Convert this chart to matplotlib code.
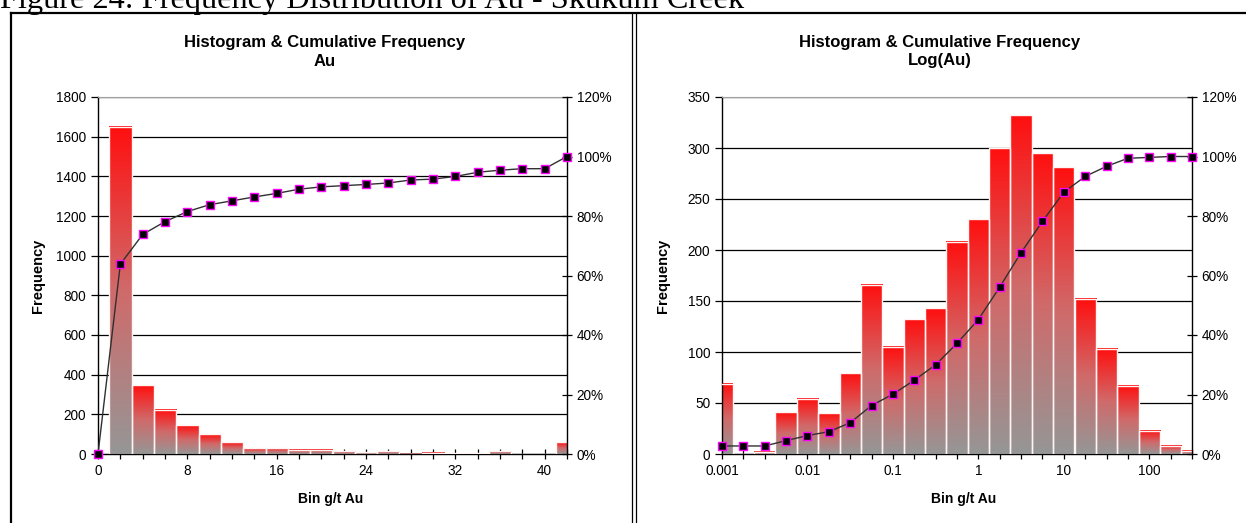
import matplotlib
matplotlib.use("Agg")
import matplotlib.pyplot as plt
import numpy as np
from matplotlib.colors import LinearSegmentedColormap
from matplotlib.lines import Line2D
from matplotlib.ticker import FixedLocator, FuncFormatter

# --- data ---
au_bins = [0, 2, 4, 6, 8, 10, 12, 14, 16, 18, 20, 22, 24, 26, 28, 30, 32, 34, 36, 38, 40, 42]
au_freq = [0, 1650, 347, 222, 145, 99, 60, 29, 29, 22, 22, 15, 8, 15, 2, 6, 5, 5, 15, 0, 0, 60]
au_cum = [0, 63.8, 73.8, 78.1, 81.5, 83.8, 85.1, 86.4, 87.6, 89.0, 89.8, 90.2, 90.6,
          91.1, 92.1, 92.4, 93.3, 94.7, 95.4, 95.9, 95.9, 100.0]

log_bins = [0.001, 0.0018, 0.0032, 0.0056, 0.01, 0.018, 0.032, 0.056, 0.1, 0.18, 0.32, 0.56,
            1, 1.8, 3.2, 5.6, 10, 18, 32, 56, 100, 180, 320]
log_freq = [69, 0, 2, 41, 54, 40, 79, 166, 105, 132, 143, 208, 230, 300, 332, 295, 281,
            152, 103, 67, 23, 8, 3]
log_cum = [2.7, 2.7, 2.7, 4.5, 6.2, 7.5, 10.5, 16.3, 20.1, 24.8, 30.0, 37.2, 45.2, 56.1,
           67.7, 78.2, 88.0, 93.3, 96.7, 99.4, 99.7, 100.0, 100.0]

W, H = 1246, 523
SANS = "Liberation Sans"
TICK_FS = 9.8

plt.rcParams["font.family"] = SANS
cmap = LinearSegmentedColormap.from_list("redgrey", ["#969696", "#d06a6a", "#ff1010"])


def px_rect(x0, y0, x1, y1):
    return [x0 / W, 1 - y1 / H, (x1 - x0) / W, (y1 - y0) / H]


def histo(ax, bins, freq, cum, ymax, ystep, label_every=4):
    n = len(bins)
    x = np.arange(n)
    grad = np.linspace(0, 1, 100).reshape(-1, 1)
    for xi, h in zip(x, freq):
        if h <= 0:
            continue
        ax.imshow(grad, extent=(xi - 0.5, xi + 0.5, 0, h), origin="lower", aspect="auto",
                  cmap=cmap, interpolation="bilinear", zorder=2)
    ax.bar(x, freq, width=1.0, facecolor="none", edgecolor="#fff4f4", linewidth=1.0, zorder=3)

    ax.set_xlim(0, n - 1)
    ax.set_ylim(0, ymax)
    ax.set_yticks(np.arange(0, ymax + 1, ystep))
    ax.yaxis.grid(True, color="black", linewidth=0.9)
    ax.set_axisbelow(True)

    ax.xaxis.set_major_locator(FixedLocator(x[::label_every]))
    ax.xaxis.set_major_formatter(FuncFormatter(lambda v, p: f"{bins[int(round(v))]:g}"))
    ax.xaxis.set_minor_locator(FixedLocator(x))
    ax.tick_params(axis="x", which="both", direction="inout", length=7, width=0.9,
                   labelsize=TICK_FS, colors="black")
    ax.tick_params(axis="y", direction="out", length=5, width=0.9, labelsize=TICK_FS)

    for s in ["left", "bottom"]:
        ax.spines[s].set_linewidth(1.0)
    ax.spines["top"].set_color("#a0a0a0")
    ax.spines["top"].set_linewidth(0.8)
    ax.spines["right"].set_visible(False)

    ax2 = ax.twinx()
    ax2.plot(x, cum, color="#303030", linewidth=1.0, marker="s", markersize=5.5,
             markerfacecolor="black", markeredgecolor="#ff00ff", markeredgewidth=1.0,
             clip_on=False, zorder=5)
    ax2.set_ylim(0, 120)
    ax2.set_yticks(np.arange(0, 121, 20))
    ax2.yaxis.set_major_formatter(FuncFormatter(lambda v, p: f"{v:.0f}%"))
    ax2.tick_params(axis="y", direction="inout", length=7, width=0.9, labelsize=TICK_FS)
    ax2.spines["right"].set_linewidth(1.0)
    for s in ["left", "top", "bottom"]:
        ax2.spines[s].set_visible(False)
    return ax2


fig = plt.figure(figsize=(W / 100, H / 100), dpi=100)

ax_l = fig.add_axes(px_rect(98, 97, 567, 454))
histo(ax_l, au_bins, au_freq, au_cum, 1800, 200)
ax_r = fig.add_axes(px_rect(722, 97, 1192, 454))
histo(ax_r, log_bins, log_freq, log_cum, 350, 50)

# titles and axis labels
for cx, sub, ylx, xlx in [(325, "Au", 38, 331), (940, "Log(Au)", 663, 964)]:
    fig.text(cx / W, 1 - 42 / H, "Histogram & Cumulative Frequency", ha="center", va="center",
             fontsize=12, fontweight="bold")
    fig.text(cx / W, 1 - 61 / H, sub, ha="center", va="center", fontsize=12, fontweight="bold")
    fig.text(ylx / W, 1 - 276 / H, "Frequency", rotation=90, ha="center", va="center",
             fontsize=10.5, fontweight="bold")
    fig.text(xlx / W, 1 - 499 / H, "Bin g/t Au", ha="center", va="center",
             fontsize=10, fontweight="bold")

# figure caption (cut at the top of the page, as in the source)
fig.text(0, 1 - 8 / H, "Figure 24: Frequency Distribution of Au - Skukum Creek",
         ha="left", va="baseline", fontsize=23.3, family="Liberation Serif")

# panel frames
def fline(xs, ys, lw):
    fig.add_artist(Line2D([v / W for v in xs], [1 - v / H for v in ys],
                          color="black", linewidth=lw, transform=fig.transFigure))

fline([11, W], [13, 13], 1.6)
fline([11, 11], [13, H], 1.6)
fline([632.3, 632.3], [13, H], 0.9)
fline([635.7, 635.7], [13, H], 0.9)

fig.savefig("out.png", dpi=100)
